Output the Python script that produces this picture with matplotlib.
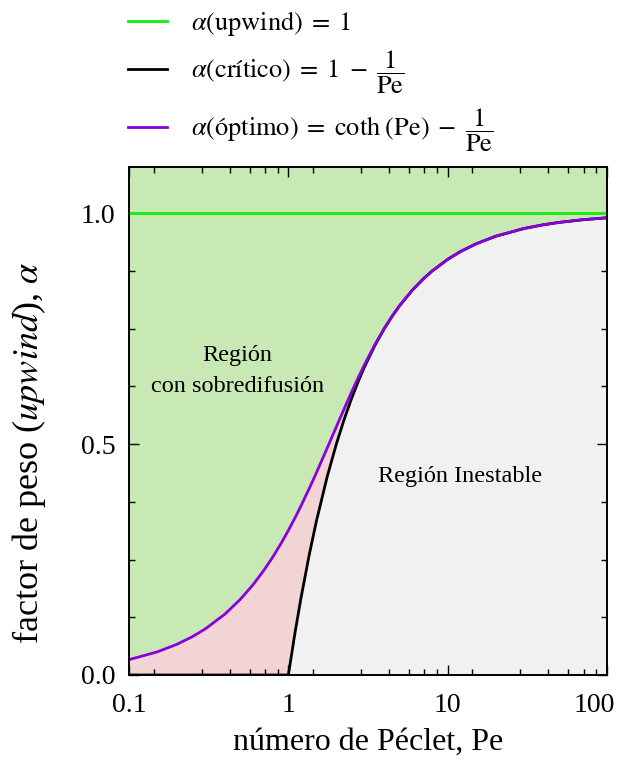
import matplotlib
matplotlib.use("Agg")
import matplotlib.pyplot as plt
import matplotlib.ticker as mticker
from matplotlib.transforms import ScaledTranslation

plt.rcParams['font.family'] = ['Liberation Serif', 'DejaVu Serif']
plt.rcParams['mathtext.fontset'] = 'stix'

# numero de Peclet
pe = [0.1, 0.15, 0.2, 0.25, 0.3, 0.4, 0.5, 0.6, 0.7, 0.8, 0.9, 1.0, 1.1, 1.2,
      1.35, 1.5, 1.75, 2.0, 2.25, 2.5, 2.75, 3.0, 3.5, 4.0, 4.5, 5.0, 6.0,
      7.0, 8.0, 10, 12, 15, 20, 30, 40, 50, 70, 100]

# alpha optimo = coth(Pe) - 1/Pe
alpha_opt = [0.0333, 0.0499, 0.0665, 0.0830, 0.0994, 0.1319, 0.1640, 0.1954,
             0.2261, 0.2559, 0.2850, 0.3130, 0.3401, 0.3662, 0.4034, 0.4381,
             0.4909, 0.5373, 0.5780, 0.6136, 0.6446, 0.6716, 0.7161, 0.7507,
             0.7780, 0.8001, 0.8334, 0.8572, 0.8750, 0.9000, 0.9167, 0.9333,
             0.9500, 0.9667, 0.9750, 0.9800, 0.9857, 0.9900]

# alpha critico = 1 - 1/Pe (0 para Pe < 1)
alpha_crit = [0, 0, 0, 0, 0, 0, 0, 0, 0, 0, 0, 0, 0.0909, 0.1667, 0.2593,
              0.3333, 0.4286, 0.5000, 0.5556, 0.6000, 0.6364, 0.6667, 0.7143,
              0.7500, 0.7778, 0.8000, 0.8333, 0.8571, 0.8750, 0.9000, 0.9167,
              0.9333, 0.9500, 0.9667, 0.9750, 0.9800, 0.9857, 0.9900]

pe_upw = [0.1, 100]
alpha_upw = [1.0, 1.0]

ytop = 1.1

fig = plt.figure(figsize=(6.23, 7.66), dpi=100)
ax = fig.add_axes([0.2071, 0.1188, 0.7673, 0.6632])

ax.fill_between(pe, alpha_opt, ytop, color='#c8e8b4', lw=0)
ax.fill_between(pe, alpha_crit, alpha_opt, color='#f2d4d4', lw=0)
ax.fill_between(pe, 0, alpha_crit, color='#f1f1f1', lw=0)

ax.plot(pe_upw, alpha_upw, color='#11ee11', lw=2.0,
        label=r'$\alpha(\mathrm{upwind})\;=\;1$')
ax.plot(pe, alpha_crit, color='black', lw=2.0,
        label=r'$\alpha(\mathrm{crítico})\;=\;1\;-\;\dfrac{1}{\mathrm{Pe}}$')
ax.plot(pe, alpha_opt, color='#8800dd', lw=2.0,
        label=r'$\alpha(\mathrm{óptimo})\;=\;\mathrm{coth}\;(\mathrm{Pe})\;-\;\dfrac{1}{\mathrm{Pe}}$')

ax.set_xscale('log')
ax.set_xlim(0.1, 100)
ax.set_ylim(0, ytop)

ax.xaxis.set_major_locator(mticker.FixedLocator([0.1, 1, 10, 100]))
ax.xaxis.set_major_formatter(mticker.FixedFormatter(['0.1', '1', '10', '100']))
ax.xaxis.set_minor_locator(mticker.LogLocator(base=10, subs=[k * 10 / 7 for k in range(1, 7)]))
ax.xaxis.set_minor_formatter(mticker.NullFormatter())
ax.set_yticks([0.0, 0.5, 1.0])
ax.set_yticklabels(['0.0', '0.5', '1.0'])
ax.yaxis.set_minor_locator(mticker.MultipleLocator(0.125))

ax.tick_params(which='both', direction='in', top=True, right=True, width=1.0)
ax.tick_params(which='major', length=7, labelsize=20)
ax.tick_params(axis='x', which='major', pad=13)
ax.tick_params(axis='y', which='major', pad=10)
ax.tick_params(which='minor', length=4)
for s in ax.spines.values():
    s.set_linewidth(1.4)

# desplazar la etiqueta "100" para que no se corte
last = ax.xaxis.get_major_ticks()[-1].label1
last.set_transform(last.get_transform() + ScaledTranslation(-9 / 72, 0, fig.dpi_scale_trans))

ax.set_xlabel('número de Péclet, Pe', fontsize=23, labelpad=7)
ax.set_ylabel(r'factor de peso ($\mathit{upwind}$), $\alpha$', fontsize=26)
ax.yaxis.set_label_coords(-0.17, 0.437)

ax.text(0.48, 0.658, 'Región\ncon sobredifusión', fontsize=17.5,
        ha='center', va='center', linespacing=1.6)
ax.text(12, 0.43, 'Región Inestable', fontsize=17.5, ha='center', va='center')

ax.legend(loc='lower left', bbox_to_anchor=(-0.03, 1.0), frameon=False,
          fontsize=19, handlelength=1.5, handletextpad=0.9, labelspacing=0.4,
          borderaxespad=0.1)

fig.savefig('out.png', dpi=100)
